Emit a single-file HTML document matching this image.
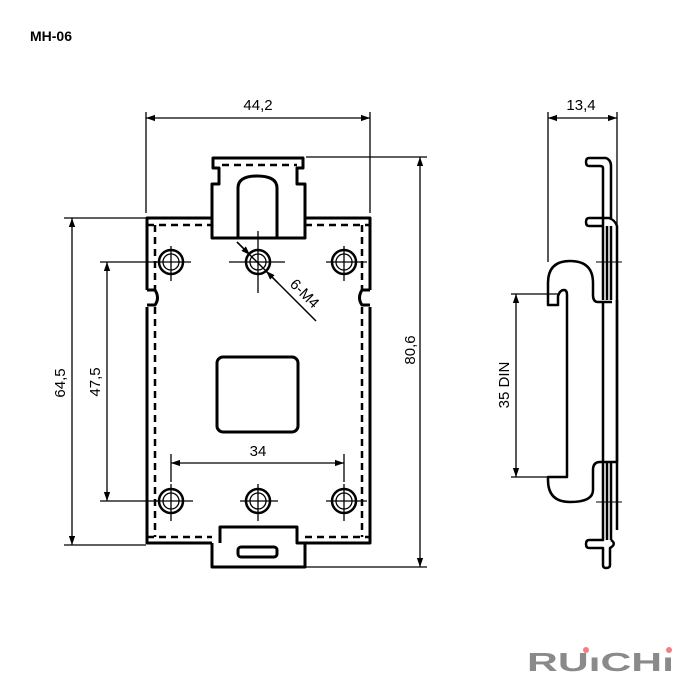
<!DOCTYPE html>
<html><head><meta charset="utf-8"><style>
html,body{margin:0;padding:0;background:#fff;}
svg{display:block;}
text{font-family:"Liberation Sans",sans-serif;}
</style></head><body>
<svg width="700" height="700" viewBox="0 0 700 700" xmlns="http://www.w3.org/2000/svg">
<defs>
<marker id="a" viewBox="0 0 10 10" refX="10" refY="5" markerWidth="9" markerHeight="9" orient="auto-start-reverse" markerUnits="userSpaceOnUse"><path d="M0,1.5 L10,5 L0,8.5 z" fill="#000"/></marker>
</defs>
<text x="30" y="41" font-size="14" font-weight="bold">MH-06</text>

<g fill="none" stroke="#000" stroke-width="3" stroke-linejoin="round">
<!-- plate outline -->
<path d="M211,218 H147 V290 M147,307 V543 H212 M305,543 H370 V307 M370,290 V218 H305"/>
<!-- notches -->
<path d="M147,290 H155 Q160,298 155,305 H147 M370,290 H362 Q357,298 362,305 H370"/>
<!-- top tab -->
<path d="M212,238 V184 H219 V168 H213 V158 H303 V168 H297 V184 H305 V238 Z"/>
<path d="M238,238 V188 Q238,176 257,176 Q277,176 277,188 V238"/>
<!-- bottom tab -->
<path d="M212,543 V567 H305 V543 H297 V527 H220 V543"/>
<rect x="238" y="547" width="39" height="10" rx="3"/>
<!-- square -->
<rect x="217" y="357" width="81" height="75" rx="6"/>
</g>
<g fill="none" stroke="#000" stroke-width="2.5" stroke-dasharray="7,5">
<path d="M147,225 H211 M305,225 H370 M222,165 H297"/>
<path d="M147,537 H212 M305,537 H370"/>
<path d="M155,225 V290 M155,307 V537 M362,225 V290 M362,307 V537"/>
</g>
<!-- holes -->
<g fill="none" stroke="#000">
<g stroke-width="2.5">
<circle cx="171" cy="262" r="12"/><circle cx="258" cy="262" r="12"/><circle cx="344" cy="262" r="12"/>
<circle cx="171" cy="501" r="12"/><circle cx="258" cy="501" r="12"/><circle cx="344" cy="501" r="12"/>
</g>
<g stroke-width="1.3">
<circle cx="171" cy="262" r="8"/><circle cx="258" cy="262" r="8"/><circle cx="344" cy="262" r="8"/>
<circle cx="171" cy="501" r="8"/><circle cx="258" cy="501" r="8"/><circle cx="344" cy="501" r="8"/>
<path d="M155,262 H191 M171,246 V281 M229,262 H285 M258,231 V293 M326,262 H367 M344,246 V281"/>
<path d="M155,501 H193 M171,484 V521 M240,501 H278 M258,484 V521 M326,501 H367 M344,484 V521"/>
</g>
</g>
<!-- 6-M4 leader -->
<g stroke="#000" stroke-width="1.5" fill="none">
<line x1="237" y1="242" x2="316" y2="321"/>
<line x1="237" y1="242" x2="250" y2="255" marker-end="url(#a)"/>
<line x1="278" y1="283" x2="266" y2="271" marker-end="url(#a)"/>
</g>
<text x="0" y="0" font-size="15" transform="translate(289,285) rotate(45)">6-M4</text>

<!-- dimensions -->
<g stroke="#000" stroke-width="1.3" fill="none">
<!-- 44,2 -->
<path d="M146,112 V213 M370,112 V213"/>
<line x1="146" y1="118" x2="370" y2="118" marker-start="url(#a)" marker-end="url(#a)"/>
<!-- 80,6 -->
<path d="M306,157 H427 M306,567 H427"/>
<line x1="420" y1="157" x2="420" y2="567" marker-start="url(#a)" marker-end="url(#a)"/>
<!-- 64,5 -->
<path d="M64,218 H146 M64,545 H146"/>
<line x1="72" y1="218" x2="72" y2="545" marker-start="url(#a)" marker-end="url(#a)"/>
<!-- 47,5 -->
<path d="M100,262 H158 M100,501 H158"/>
<line x1="107" y1="262" x2="107" y2="501" marker-start="url(#a)" marker-end="url(#a)"/>
<!-- 34 -->
<path d="M171,454 V482 M344,454 V482"/>
<line x1="171" y1="463" x2="344" y2="463" marker-start="url(#a)" marker-end="url(#a)"/>
<!-- 13,4 -->
<path d="M548,112 V262 M617,112 V225"/>
<line x1="548" y1="118" x2="617" y2="118" marker-start="url(#a)" marker-end="url(#a)"/>
<!-- 35 DIN -->
<path d="M511,294 H560 M511,477 H548"/>
<line x1="516" y1="294" x2="516" y2="477" marker-start="url(#a)" marker-end="url(#a)"/>
</g>
<text x="258" y="110" font-size="15" text-anchor="middle">44,2</text>
<text x="258" y="456" font-size="15" text-anchor="middle">34</text>
<text x="581" y="110" font-size="15" text-anchor="middle">13,4</text>
<text font-size="15" text-anchor="middle" transform="translate(415,350) rotate(-90)">80,6</text>
<text font-size="15" text-anchor="middle" transform="translate(65,383) rotate(-90)">64,5</text>
<text font-size="15" text-anchor="middle" transform="translate(100,382) rotate(-90)">47,5</text>
<text font-size="15" text-anchor="middle" transform="translate(509,385) rotate(-90)">35 DIN</text>

<!-- side view -->
<g fill="none" stroke="#000" stroke-width="2.5" stroke-linejoin="round">
<path d="M603,300 V168 Q603,166 600,166 H589 Q586,166 586,162 Q586,158 589,158 H606 Q611,160 611,166 V218"/>
<path d="M603,226 H589 Q586,226 586,222 Q586,218 589,218 H609 Q615,220 617,226 V530"/>
<path d="M607,226 V300 M611,226 V300 M607,462 V540 M611,462 V540"/>
<path d="M612,302 H598 Q593,302 593,295 V283 Q593,261 570,261 Q548,261 548,283 V305 H558 V296 Q560,290 564,290 Q567,290 567,295 V477 H548 V480 Q548,502 570,502 Q593,502 593,490 V470 Q593,462 600,462 H617"/>
<path d="M603,462 V540 H589 Q586,540 586,544 Q586,548 589,548 H603 V565 Q603,568 606,568 Q610,568 610,565 V548 Q617,544 611,540"/>
<path d="M617,300 V462"/>
<path d="M603,302 V462"/>
</g>
<g stroke="#000" stroke-width="1" fill="none">
<path d="M596,262 H622 M596,502 H622"/>
</g>

<!-- logo -->
<g font-family="Liberation Sans,sans-serif" font-weight="bold" font-size="26" fill="#8a8a8a">
<text x="527" y="671" textLength="147" lengthAdjust="spacingAndGlyphs">RUıCHı</text>
</g>
<circle cx="586" cy="650" r="3" fill="#f08080"/>
<circle cx="669" cy="650" r="3" fill="#f08080"/>
</svg>
</body></html>
